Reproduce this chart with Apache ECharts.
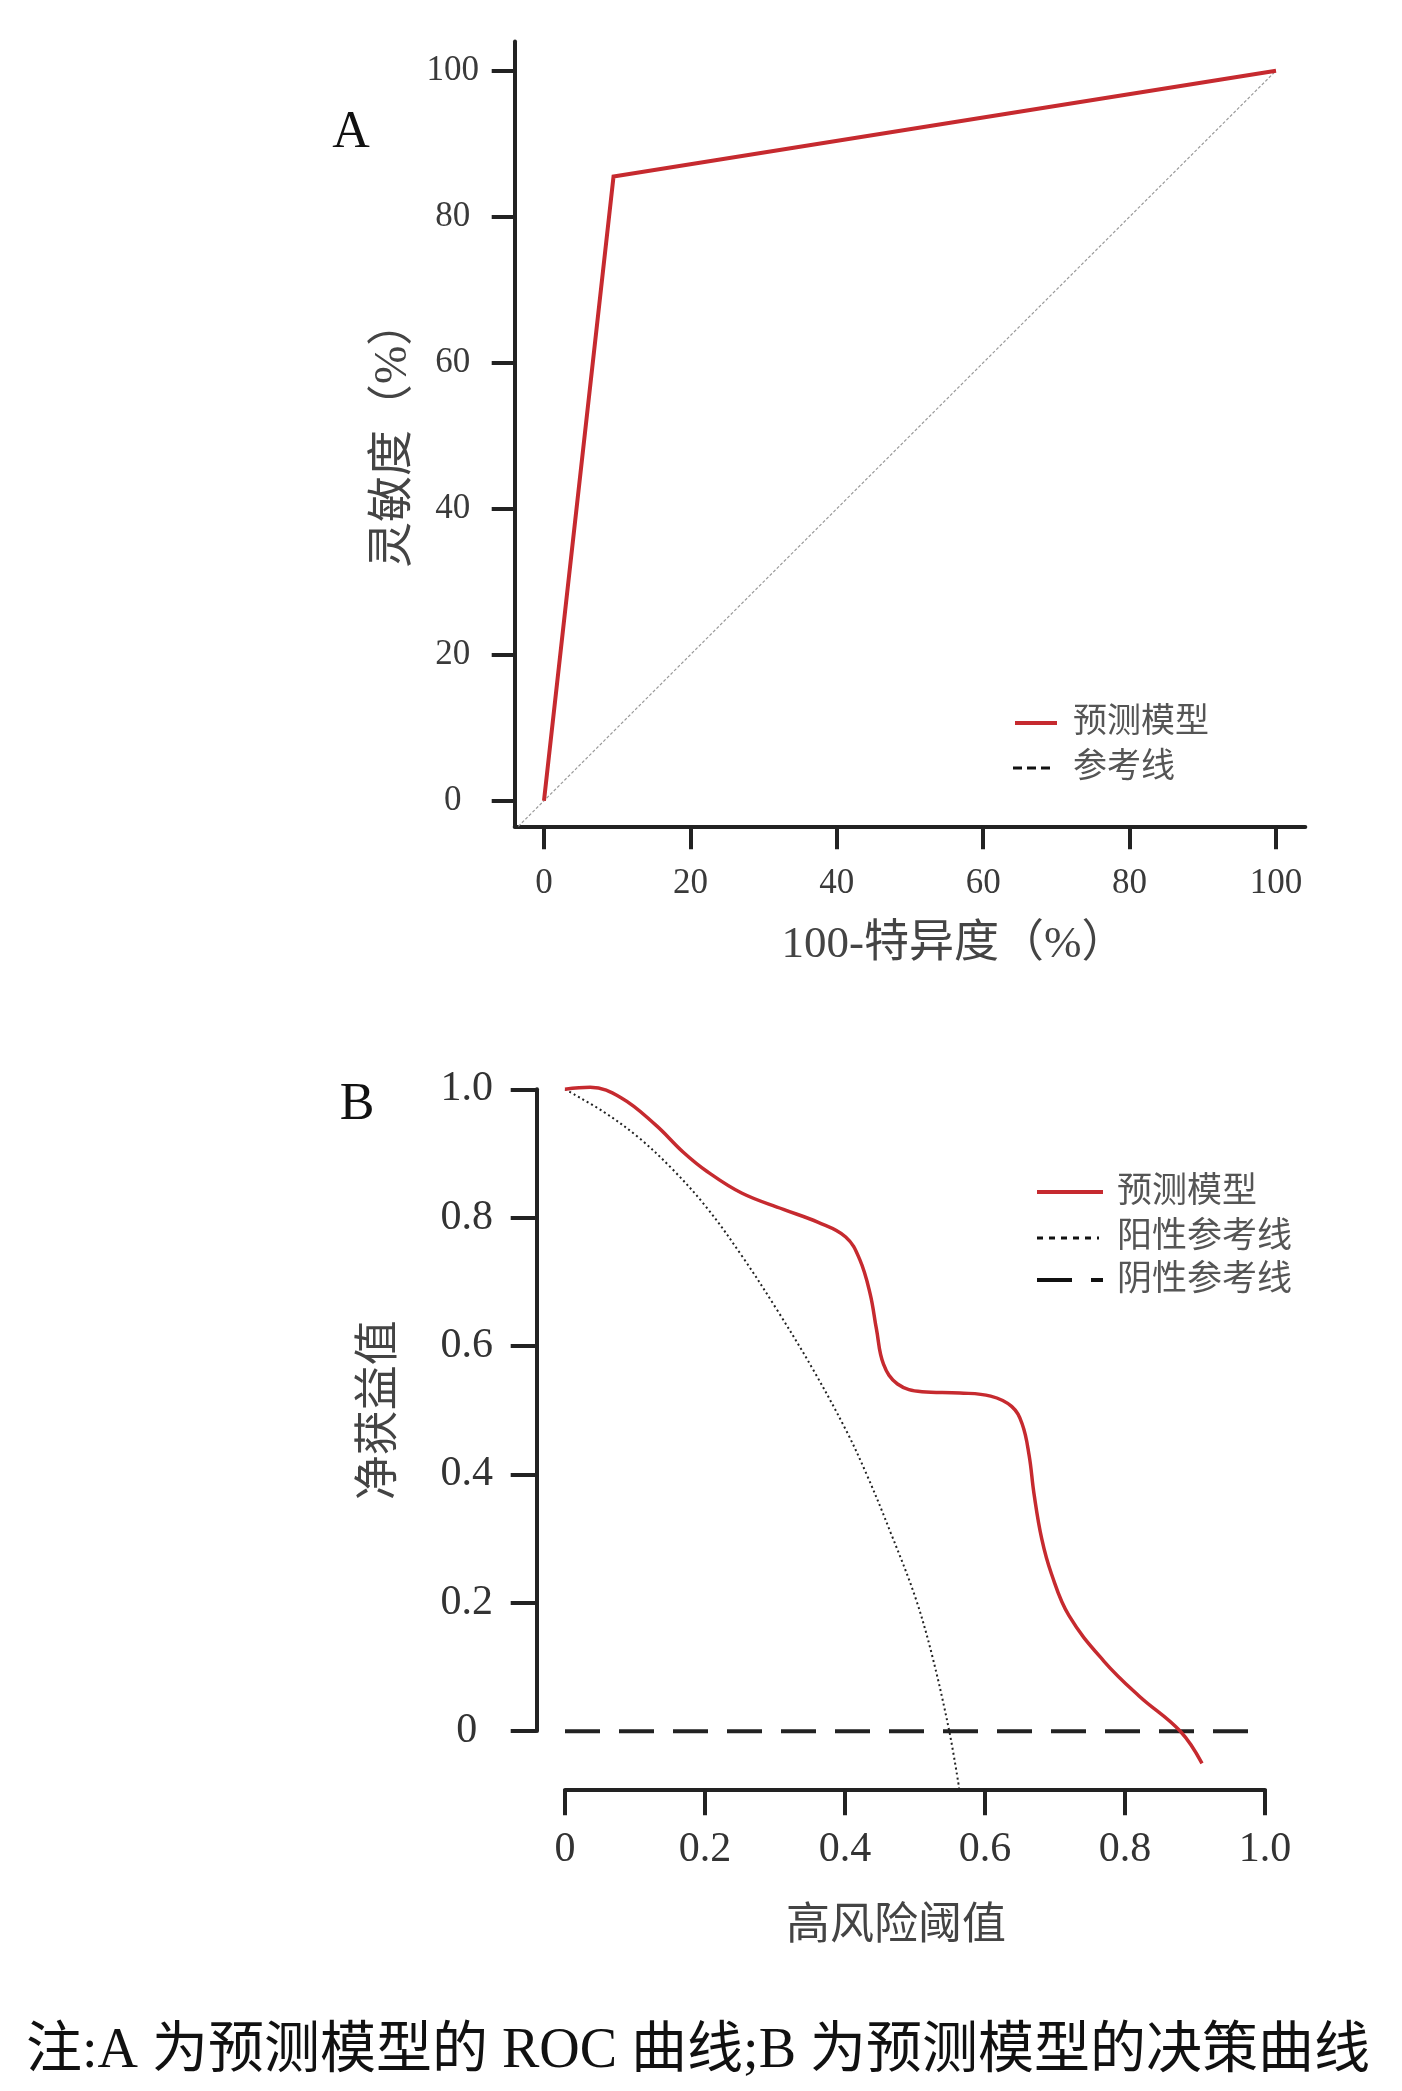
<!DOCTYPE html>
<html>
<head>
<meta charset="utf-8">
<script src="https://cdn.jsdelivr.net/npm/echarts@6/dist/echarts.min.js"></script>
<style>
html,body{margin:0;padding:0;background:#fff;}
#chart{width:1402px;height:2091px;}
</style>
</head>
<body>
<div id="chart"></div>
<script>
// ---------- Panel A: ROC ----------
const rocFpr = [0, 9.5, 100];          // 100 - specificity (%)
const rocTpr = [0, 85.5, 100];         // sensitivity (%)
const refDiagX = [-3.5, 100];
const refDiagY = [-3.5, 100];
const rocTicks = [0, 20, 40, 60, 80, 100];

// ---------- Panel B: decision curve ----------
const dcaThreshold = [0, 0.036, 0.080, 0.129, 0.169, 0.203, 0.253, 0.312, 0.361, 0.401, 0.421, 0.436, 0.445, 0.455, 0.475, 0.510, 0.564, 0.608, 0.638, 0.653, 0.663, 0.670, 0.681, 0.695, 0.720, 0.770, 0.820, 0.879, 0.910];
const dcaModel     = [1.0, 1.003, 0.987, 0.945, 0.902, 0.872, 0.838, 0.813, 0.793, 0.770, 0.735, 0.681, 0.626, 0.572, 0.541, 0.529, 0.527, 0.522, 0.506, 0.479, 0.430, 0.370, 0.300, 0.245, 0.180, 0.109, 0.055, 0.0, -0.050];
const allThreshold = [0, 0.055, 0.105, 0.154, 0.203, 0.253, 0.302, 0.352, 0.401, 0.431, 0.465, 0.500, 0.524, 0.549, 0.563];
const allNB        = [1.0, 0.965, 0.925, 0.875, 0.815, 0.740, 0.658, 0.568, 0.470, 0.400, 0.310, 0.210, 0.120, 0.0, -0.088];
const noneThreshold = [0, 1.0];
const noneNB        = [0, 0];
const dcaTicks = [0, 0.2, 0.4, 0.6, 0.8, 1.0];

const legendA = ['预测模型', '参考线'];
const legendB = ['预测模型', '阳性参考线', '阴性参考线'];

const RED = '#c62a2f';
const AX = '#222';
const SERIF = '"Liberation Serif","Noto Sans CJK SC",serif';
const CJK = '"Liberation Serif","Noto Sans CJK SC",sans-serif';

const zip = (a, b) => a.map((v, i) => [v, b[i]]);
const fmtB = v => (v === 0 ? '0' : v.toFixed(1));

const chart = echarts.init(document.getElementById('chart'), null, {renderer: 'canvas'});

const axisCommon = (len) => ({
  axisLine: {show: true, onZero: false, lineStyle: {color: AX, width: 4}},
  axisTick: {show: true, inside: false, length: len, lineStyle: {color: AX, width: 4}},
  splitLine: {show: false}
});

const option = {
  backgroundColor: '#fff',
  animation: false,
  grid: [
    {left: 514.7, right: 96.7, top: 41.5, bottom: 2091 - 826.3},
    {left: 565, right: 137, top: 1089.3, bottom: 2091 - 1789.3},
    {left: 536.7, right: 137, top: 1089.3, bottom: 2091 - 1731}
  ],
  xAxis: [
    Object.assign({
      gridIndex: 0, type: 'value', min: -4, max: 104, position: 'bottom',
      name: '100-特异度（%）', nameLocation: 'middle', nameGap: 96,
      nameTextStyle: {fontSize: 45, color: '#444', fontFamily: CJK, padding: [0, 0, 0, 88]},
      axisLabel: {customValues: rocTicks, margin: 40, fontSize: 35, color: '#3a3a3a', fontFamily: SERIF}
    }, axisCommon(23), {axisTick: {show: true, customValues: rocTicks, length: 23, lineStyle: {color: AX, width: 4}}}),
    Object.assign({
      gridIndex: 1, type: 'value', min: 0, max: 1, position: 'bottom',
      name: '高风险阈值', nameLocation: 'middle', nameGap: 116,
      nameTextStyle: {fontSize: 44, color: '#444', fontFamily: CJK, padding: [0, 38, 0, 0]},
      axisLabel: {customValues: dcaTicks, margin: 40, fontSize: 42, color: '#333', fontFamily: SERIF, formatter: fmtB}
    }, axisCommon(26), {axisTick: {show: true, customValues: dcaTicks, length: 26, lineStyle: {color: AX, width: 4}}}),
    {gridIndex: 2, type: 'value', min: 0, max: 1, show: false}
  ],
  yAxis: [
    Object.assign({
      gridIndex: 0, type: 'value', min: -3.5, max: 104, position: 'left',
      name: '灵敏度（%）', nameLocation: 'middle', nameGap: 98, nameMoveOverlap: false,
      nameTextStyle: {fontSize: 46, color: '#444', fontFamily: CJK},
      axisLabel: {customValues: rocTicks, margin: 62, align: 'center', fontSize: 35, color: '#3a3a3a', fontFamily: SERIF}
    }, axisCommon(23), {axisTick: {show: true, customValues: rocTicks, length: 23, lineStyle: {color: AX, width: 4}}}),
    {gridIndex: 1, type: 'value', min: -0.0904, max: 1.0, show: false},
    Object.assign({
      gridIndex: 2, type: 'value', min: 0, max: 1, interval: 0.2, position: 'left',
      name: '净获益值', nameLocation: 'middle', nameGap: 133, nameMoveOverlap: false,
      nameTextStyle: {fontSize: 45, color: '#444', fontFamily: CJK},
      axisLabel: {margin: 70, align: 'center', fontSize: 42, color: '#333', fontFamily: SERIF, formatter: fmtB}
    }, axisCommon(26))
  ],
  series: [
    {type: 'line', name: legendA[1], xAxisIndex: 0, yAxisIndex: 0, data: zip(refDiagX, refDiagY),
     symbol: 'none', clip: false, lineStyle: {color: '#9a9a9a', width: 1.2, type: [3, 2]}},
    {type: 'line', name: legendA[0], xAxisIndex: 0, yAxisIndex: 0, data: zip(rocFpr, rocTpr),
     symbol: 'none', clip: false, lineStyle: {color: RED, width: 4, join: 'miter'}},
    {type: 'line', name: legendB[2], xAxisIndex: 1, yAxisIndex: 1, data: zip(noneThreshold, noneNB),
     symbol: 'none', clip: false, lineStyle: {color: AX, width: 4, type: [35, 19], cap: 'butt'}},
    {type: 'line', name: legendB[1], xAxisIndex: 1, yAxisIndex: 1, data: zip(allThreshold, allNB),
     symbol: 'none', clip: false, smooth: 0.35, lineStyle: {color: '#222', width: 2, type: [2, 3]}},
    {type: 'line', name: legendB[0], xAxisIndex: 1, yAxisIndex: 1, data: zip(dcaThreshold, dcaModel),
     symbol: 'none', clip: false, smooth: 0.4, lineStyle: {color: RED, width: 3.5}}
  ],
  graphic: [
    // panel letters
    {type: 'text', x: 351, y: 133, style: {text: 'A', fontSize: 52, fontFamily: SERIF, fill: '#111', align: 'center', verticalAlign: 'middle'}},
    {type: 'text', x: 357, y: 1105, style: {text: 'B', fontSize: 52, fontFamily: SERIF, fill: '#111', align: 'center', verticalAlign: 'middle'}},
    // legend A
    {type: 'line', shape: {x1: 1015, y1: 723, x2: 1057, y2: 723}, style: {stroke: RED, lineWidth: 4}},
    {type: 'text', x: 1073, y: 723, style: {text: legendA[0], fontSize: 34, fontFamily: CJK, fill: '#555', align: 'left', verticalAlign: 'middle'}},
    {type: 'line', shape: {x1: 1013, y1: 768, x2: 1050, y2: 768}, style: {stroke: '#111', lineWidth: 3, lineDash: [9, 5]}},
    {type: 'text', x: 1073, y: 768, style: {text: legendA[1], fontSize: 34, fontFamily: CJK, fill: '#555', align: 'left', verticalAlign: 'middle'}},
    // legend B
    {type: 'line', shape: {x1: 1037, y1: 1192, x2: 1103, y2: 1192}, style: {stroke: RED, lineWidth: 4}},
    {type: 'text', x: 1117, y: 1193, style: {text: legendB[0], fontSize: 35, fontFamily: CJK, fill: '#555', align: 'left', verticalAlign: 'middle'}},
    {type: 'line', shape: {x1: 1037, y1: 1238, x2: 1099, y2: 1238}, style: {stroke: '#111', lineWidth: 3, lineDash: [6, 6]}},
    {type: 'text', x: 1117, y: 1238, style: {text: legendB[1], fontSize: 35, fontFamily: CJK, fill: '#555', align: 'left', verticalAlign: 'middle'}},
    {type: 'line', shape: {x1: 1037, y1: 1280, x2: 1103, y2: 1280}, style: {stroke: '#111', lineWidth: 4, lineDash: [35, 19]}},
    {type: 'text', x: 1117, y: 1281, style: {text: legendB[2], fontSize: 35, fontFamily: CJK, fill: '#555', align: 'left', verticalAlign: 'middle'}},
    // caption
    {type: 'text', x: 698, y: 2052, style: {text: '注:A 为预测模型的 ROC 曲线;B 为预测模型的决策曲线', fontSize: 56, fontFamily: CJK, fill: '#111', align: 'center', verticalAlign: 'middle'}}
  ]
};
chart.setOption(option);
</script>
</body>
</html>
